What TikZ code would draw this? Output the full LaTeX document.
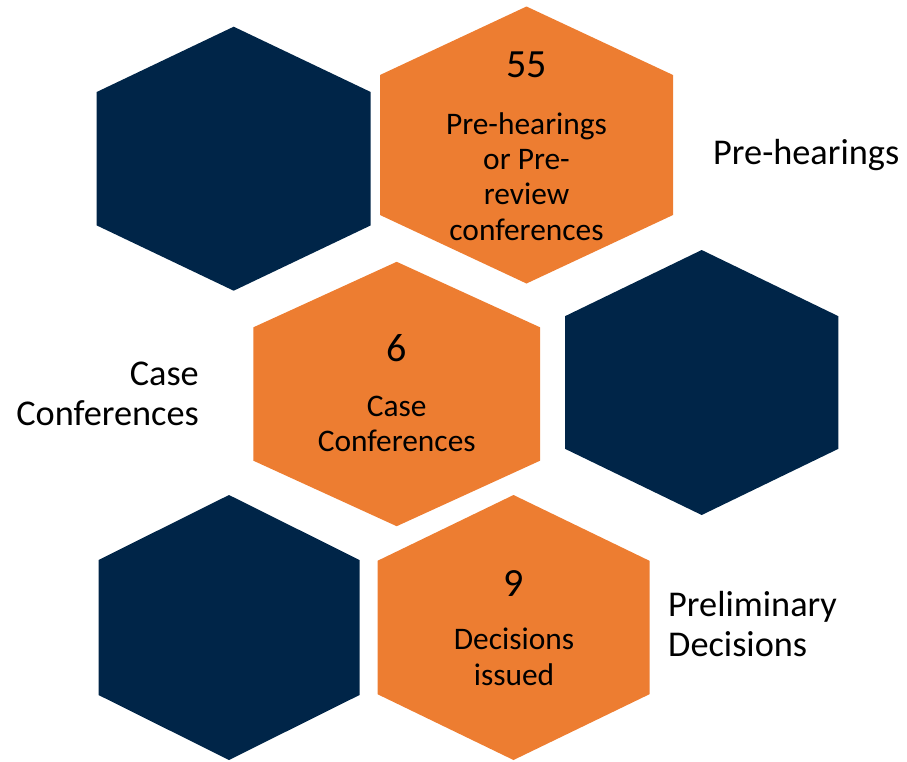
\documentclass[tikz,border=0pt]{standalone}
\usepackage{fontspec}
\setmainfont{Carlito}
\definecolor{navyhex}{RGB}{0,37,72}
\definecolor{orangehex}{RGB}{237,125,49}
\newcommand\hexfill[6]{%
  \fill[#6] (#1-#3,#2-#5) -- (#1,#2-#4) -- (#1+#3,#2-#5) -- (#1+#3,#2+#5) -- (#1,#2+#4) -- (#1-#3,#2+#5) -- cycle;}
\begin{document}
\begin{tikzpicture}[x=1pt,y=-1pt,
  numtext/.style={anchor=base,inner sep=0pt,font=\fontsize{40}{48}\selectfont,text=black},
  intext/.style={anchor=base,inner sep=0pt,align=center,font=\fontsize{31.4}{35.3}\selectfont,text=black},
  outtext/.style={anchor=base,inner sep=0pt,font=\fontsize{36.3}{39.3}\selectfont,text=black}]
\useasboundingbox (0,0) rectangle (907,761);
% hexagons
\hexfill{233.7}{158.7}{137}{132}{66.7}{navyhex}
\hexfill{526.5}{145}{146.5}{138.5}{70}{orangehex}
\hexfill{396.7}{394}{143.3}{132.2}{66.7}{orangehex}
\hexfill{701.7}{382.5}{136.7}{132.5}{66.3}{navyhex}
\hexfill{229}{627.5}{130.5}{132.5}{67.5}{navyhex}
\hexfill{513.5}{627.5}{136}{132.5}{66.7}{orangehex}
% texts inside (base anchor = baseline of last line)
\node[numtext] (n55) at (526.5,77.3) {55};
\node[intext] (t55) at (526.5,240) {Pre-hearings\\or Pre-\\review\\conferences};
\node[numtext] (n6) at (396.7,361.7) {6};
\node[intext] (t6) at (396.7,451.7) {Case\\Conferences};
\node[numtext] (n9) at (514,596.7) {9};
\node[intext] (t9) at (514,685) {Decisions\\issued};
% texts outside
\node[outtext,anchor=base west] (lpre) at (713,164.3) {Pre-hearings};
\node[outtext,anchor=base east,align=right] (lcase) at (199,425) {Case\\Conferences};
\node[outtext,anchor=base west,align=left] (lprel) at (668,656) {Preliminary\\Decisions};
\end{tikzpicture}
\end{document}
